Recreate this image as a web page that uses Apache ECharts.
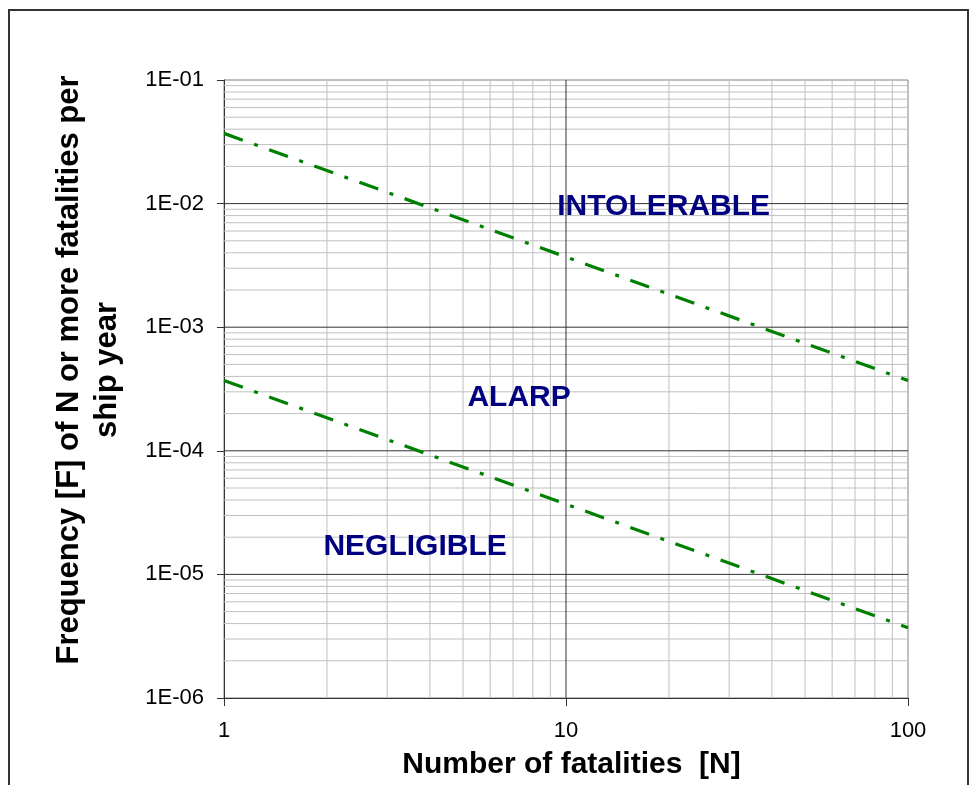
<!DOCTYPE html>
<html>
<head>
<meta charset="utf-8">
<script src="https://cdn.jsdelivr.net/npm/echarts@6/dist/echarts.min.js"></script>
<style>html,body{margin:0;padding:0;background:#fff}#c{width:978px;height:785px}</style>
</head>
<body>
<div id="c"></div>
<script>
// ---- data ----
const nValues = [1, 100];
const upperLimit = [3.7e-2, 3.7e-4];   // intolerable / ALARP boundary
const lowerLimit = [3.7e-4, 3.7e-6];   // ALARP / negligible boundary
const regionNames = ['INTOLERABLE', 'ALARP', 'NEGLIGIBLE'];
const regionN = [19.3, 7.29, 3.62];
const regionF = [9.4e-3, 2.68e-4, 1.66e-5];
const xTickLabels = ['1', '10', '100'];
const yTickLabels = ['1E-06', '1E-05', '1E-04', '1E-03', '1E-02', '1E-01'];
const xRange = [1, 100];
const yRange = [1e-6, 1e-1];
const xMajor = [10];
const yMajor = [1e-5, 1e-4, 1e-3, 1e-2];
const xMinor = [2,3,4,5,6,7,8,9,20,30,40,50,60,70,80,90];
const yMinorMantissa = [2,3,4,5,6,7,8,9];
const yDecades = [1e-6,1e-5,1e-4,1e-3,1e-2];

const FONT = '"Liberation Sans", Arial, sans-serif';
const chart = echarts.init(document.getElementById('c'), null, {renderer: 'canvas'});

const minorStyle = {color: '#c0c0c0', width: 1, type: 'solid'};
const majorStyle = {color: '#333333', width: 1, type: 'solid'};
const gridSeries = [];
function vLine(v, st, z) {
  gridSeries.push({type: 'line', silent: true, symbol: 'none', z: z, lineStyle: st,
    data: [[v, yRange[0]], [v, yRange[1]]]});
}
function hLine(v, st, z) {
  gridSeries.push({type: 'line', silent: true, symbol: 'none', z: z, lineStyle: st,
    data: [[xRange[0], v], [xRange[1], v]]});
}
xMinor.forEach(v => vLine(v, minorStyle, 1));
yDecades.forEach(d => yMinorMantissa.forEach(m => hLine(d * m, minorStyle, 1)));
xMajor.forEach(v => vLine(v, majorStyle, 1.5));
yMajor.forEach(v => hLine(v, majorStyle, 1.5));

const lineStyle = {color: '#008000', width: 3.2, type: [20, 12, 4, 12]};

chart.setOption({
  animation: false,
  backgroundColor: '#ffffff',
  graphic: [{
    type: 'rect', silent: true,
    shape: {x: 9, y: 10, width: 959, height: 800},
    style: {fill: 'none', stroke: '#333333', lineWidth: 2}
  }],
  grid: {left: 224, right: 70, top: 80, bottom: 85, show: true, borderColor: '#808080', borderWidth: 1},
  xAxis: {
    type: 'log', logBase: 10, min: xRange[0], max: xRange[1], interval: 1,
    name: 'Number of fatalities  [N]', nameLocation: 'middle', nameGap: 52,
    nameTextStyle: {fontFamily: FONT, fontSize: 30, fontWeight: 'bold', color: '#000', padding: [0, 0, 0, 11]},
    axisLine: {lineStyle: {color: '#333333', width: 1}},
    axisTick: {show: true, length: 8, lineStyle: {color: '#333333'}},
    axisLabel: {fontFamily: FONT, fontSize: 22, color: '#000', margin: 22,
      formatter: v => xTickLabels[Math.round(Math.log10(v))]},
    splitLine: {show: false}
  },
  yAxis: {
    type: 'log', logBase: 10, min: yRange[0], max: yRange[1], interval: 1,
    name: 'Frequency [F] of N or more fatalities per\nship year', nameLocation: 'middle', nameGap: 98, nameRotate: 90,
    nameTextStyle: {fontFamily: FONT, fontSize: 31, fontWeight: 'bold', color: '#000', lineHeight: 38, align: 'center',
      padding: [0, 0, 0, 38]},
    axisLine: {lineStyle: {color: '#333333', width: 1}},
    axisTick: {show: true, length: 7, lineStyle: {color: '#333333'}},
    axisLabel: {fontFamily: FONT, fontSize: 22, color: '#000', margin: 20,
      formatter: v => yTickLabels[Math.round(Math.log10(v)) + 6]},
    splitLine: {show: false}
  },
  series: gridSeries.concat([
    {
      type: 'line', z: 3, silent: true, symbol: 'none',
      data: nValues.map((n, i) => [n, upperLimit[i]]), lineStyle: lineStyle
    },
    {
      type: 'line', z: 3, silent: true, symbol: 'none',
      data: nValues.map((n, i) => [n, lowerLimit[i]]), lineStyle: lineStyle
    },
    {
      type: 'scatter', z: 4, silent: true, symbolSize: 1,
      itemStyle: {color: 'rgba(0,0,0,0)', opacity: 1},
      data: regionNames.map((name, i) => ({value: [regionN[i], regionF[i]], name: name})),
      label: {show: true, position: 'inside', formatter: p => p.name,
        fontFamily: FONT, fontSize: 30, fontWeight: 'bold', color: '#000080',
        textBorderWidth: 0, textBorderColor: 'transparent'}
    }
  ])
});
</script>
</body>
</html>
